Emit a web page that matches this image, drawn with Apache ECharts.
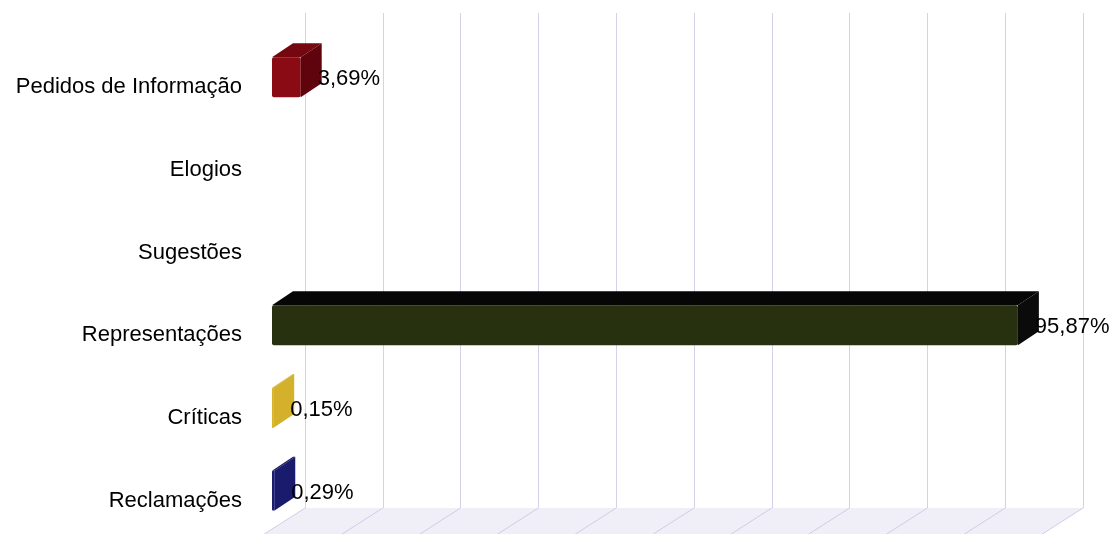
<!DOCTYPE html>
<html>
<head>
<meta charset="utf-8">
<script src="https://cdn.jsdelivr.net/npm/echarts@6/dist/echarts.min.js"></script>
<style>
  html, body { margin: 0; padding: 0; background: #fff; }
  #chart { width: 1116px; height: 534px; }
</style>
</head>
<body>
<div id="chart"></div>
<script>
// dados do gráfico
var categories = ['Pedidos de Informação', 'Elogios', 'Sugestões', 'Representações', 'Críticas', 'Reclamações'];
var values = [3.69, 0, 0, 95.87, 0.15, 0.29];
var xTicks = [0, 10, 20, 30, 40, 50, 60, 70, 80, 90, 100];

// cores: frente, topo, lado
var faceColors = [
    ['#8a0b14', '#740710', '#5f040c'],
    ['#888888', '#666666', '#555555'],
    ['#888888', '#666666', '#555555'],
    ['#27310f', '#060606', '#0b0b0b'],
    ['#d7b42a', '#c9a623', '#d4b12a'],
    ['#1b1c6f', '#16175f', '#1a1b6c']
];

var DX = 21, DY = -14, BAR_H = 40;
var FONT = '"Liberation Sans", Arial, sans-serif';

var chart = echarts.init(document.getElementById('chart'));

function renderBar(params, api) {
    var v = api.value(0);
    var i = api.value(1);
    if (!v) return;
    var p0 = api.coord([0, i]);
    var p1 = api.coord([v, i]);
    var x0 = p0[0], x1 = p1[0];
    var yt = p0[1] - BAR_H / 2, yb = p0[1] + BAR_H / 2;
    var c = faceColors[i];
    return {
        type: 'group',
        children: [
            {
                type: 'rect',
                shape: { x: x0, y: yt, width: Math.max(x1 - x0, 1), height: BAR_H, r: 2 },
                style: { fill: c[0] }
            },
            {
                type: 'polygon',
                shape: { points: [[x0, yt], [x1, yt], [x1 + DX, yt + DY], [x0 + DX, yt + DY]] },
                style: { fill: c[1] }
            },
            {
                type: 'polygon',
                shape: { points: [[x1, yt], [x1 + DX, yt + DY], [x1 + DX, yb + DY], [x1, yb]] },
                style: { fill: c[2] }
            },
            {
                type: 'text',
                style: {
                    text: v.toFixed(2).replace('.', ',') + '%',
                    x: x1 + DX - 4,
                    y: p0[1] + 2,
                    verticalAlign: 'middle',
                    font: '22px ' + FONT,
                    fill: '#000'
                }
            }
        ]
    };
}

function renderFloor(params, api) {
    var a = api.coord([0, 0]);
    var b = api.coord([100, 0]);
    return {
        type: 'polygon',
        shape: { points: [[a[0], a[1]], [b[0], b[1]], [b[0] - 50, b[1] + 32], [a[0] - 50, a[1] + 32]] },
        style: { fill: '#f0eef7' }
    };
}

function renderFloorLine(params, api) {
    var p = api.coord([api.value(0), 0]);
    return {
        type: 'line',
        shape: { x1: p[0], y1: p[1], x2: p[0] - 50, y2: p[1] + 32 },
        style: { stroke: '#d2cbe6', lineWidth: 1 }
    };
}

var option = {
    backgroundColor: '#fff',
    animation: false,
    grid: [
        { left: 305, right: 33, top: 13, bottom: 26 },
        { left: 272, width: 778, top: 36, height: 496 }
    ],
    xAxis: [
        {
            gridIndex: 0, type: 'value', min: 0, max: 100, interval: 10,
            axisLine: { show: false }, axisTick: { show: false }, axisLabel: { show: false },
            splitLine: { show: true, lineStyle: { color: '#d6d0ea', width: 1 } }
        },
        {
            gridIndex: 1, type: 'value', min: 0, max: 100, show: false
        }
    ],
    yAxis: [
        { gridIndex: 0, type: 'value', min: 0, max: 1, show: false },
        {
            gridIndex: 1, type: 'category', data: categories, inverse: true,
            axisLine: { show: false }, axisTick: { show: false },
            splitLine: { show: false },
            axisLabel: {
                margin: 30, fontSize: 22, color: '#000', fontFamily: FONT,
                verticalAlign: 'top', lineHeight: 20
            }
        }
    ],
    series: [
        {
            type: 'custom', xAxisIndex: 0, yAxisIndex: 0, silent: true, z: 1,
            renderItem: renderFloor, data: [[0, 0]], clip: false
        },
        {
            type: 'custom', xAxisIndex: 0, yAxisIndex: 0, silent: true, z: 2,
            renderItem: renderFloorLine, data: xTicks.map(function (t) { return [t]; }), clip: false
        },
        {
            type: 'custom', xAxisIndex: 1, yAxisIndex: 1, z: 5,
            renderItem: renderBar,
            encode: { x: 0, y: 1 },
            data: values.map(function (v, i) { return [v, i]; }),
            clip: false
        }
    ]
};

chart.setOption(option);
</script>
</body>
</html>
